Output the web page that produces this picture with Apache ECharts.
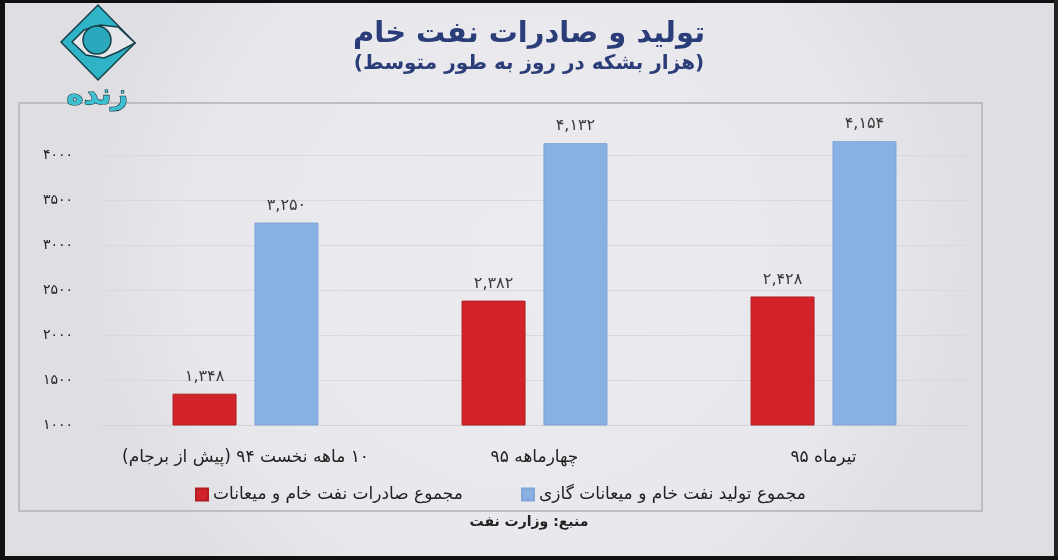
<!DOCTYPE html>
<html>
<head>
<meta charset="utf-8">
<script src="https://cdn.jsdelivr.net/npm/echarts@6/dist/echarts.min.js"></script>
<style>
html,body{margin:0;padding:0;background:#000;}
#main{width:1058px;height:560px;}
</style>
</head>
<body>
<div id="main"></div>
<script>
// ---- data ----
const titleText = 'تولید و صادرات نفت خام';
const subtitleText = '(هزار بشکه در روز به طور متوسط)';
const categories = ['۱۰ ماهه نخست ۹۴ (پیش از برجام)', 'چهارماهه ۹۵', 'تیرماه ۹۵'];
const exportName = 'مجموع صادرات نفت خام و میعانات';
const productionName = 'مجموع تولید نفت خام و میعانات گازی';
const exportValues = [1348, 2382, 2428];
const productionValues = [3250, 4132, 4154];
const yTicks = [1000, 1500, 2000, 2500, 3000, 3500, 4000];
const sourceText = 'منبع: وزارت نفت';
const logoText = 'زنده';

const FA = '۰۱۲۳۴۵۶۷۸۹';
const fa = s => String(s).replace(/\d/g, d => FA[d]);
const rtl = s => '\u202B' + s + '\u202C';
const FONT = '"DejaVu Sans", sans-serif';

const chart = echarts.init(document.getElementById('main'));

const labelCfg = {
  show: true, position: 'top', distance: 9,
  color: '#3a3a3a', fontSize: 16, fontFamily: FONT,
  formatter: p => fa(p.value.toLocaleString('en-US'))
};

const option = {
  animation: false,
  backgroundColor: {
    type: 'radial', x: 0.5, y: 0.45, r: 0.8,
    colorStops: [{offset: 0, color: '#ececf0'}, {offset: 0.75, color: '#e8e8ec'}, {offset: 1, color: '#dfdfe3'}]
  },
  textStyle: {fontFamily: FONT},
  title: {
    text: rtl(titleText),
    subtext: rtl(subtitleText),
    left: 'center', top: 15, itemGap: 5,
    textStyle: {fontFamily: FONT, fontSize: 29, fontWeight: 'bold', color: '#2b3d78'},
    subtextStyle: {fontFamily: FONT, fontSize: 20, fontWeight: 'bold', color: '#2b3d78'}
  },
  legend: [
    {data: [exportName], left: 190, top: 481, icon: 'rect', itemWidth: 12, itemHeight: 12, itemGap: 6,
     formatter: n => rtl(n), textStyle: {fontFamily: FONT, fontSize: 17, color: '#222'}},
    {data: [productionName], left: 516, top: 481, icon: 'rect', itemWidth: 12, itemHeight: 12, itemGap: 6,
     formatter: n => rtl(n), textStyle: {fontFamily: FONT, fontSize: 17, color: '#222'}}
  ],
  grid: {left: 101, right: 90, top: 110, bottom: 135},
  xAxis: {
    type: 'category', data: categories,
    axisLine: {show: true, lineStyle: {color: '#d2d3d8', width: 1}},
    axisTick: {show: false},
    axisLabel: {interval: 0, hideOverlap: false, margin: 24, fontSize: 17, color: '#222', fontFamily: FONT, formatter: v => rtl(v)}
  },
  yAxis: {
    type: 'value', min: 1000, max: 4500, interval: 500,
    axisLine: {show: false}, axisTick: {show: false},
    axisLabel: {margin: 28, fontSize: 14, color: '#222', fontFamily: FONT,
      formatter: v => yTicks.includes(v) ? fa(v) : ''},
    splitLine: {lineStyle: {color: ['#d8d9de','#d8d9de','#d8d9de','#d8d9de','#d8d9de','#d8d9de','#d8d9de','rgba(0,0,0,0)'], width: 1}}
  },
  series: [
    {name: exportName, type: 'bar', data: exportValues, barWidth: 64, barGap: '28%',
     itemStyle: {color: '#d3232a', borderColor: '#b01e24', borderWidth: 1}, label: labelCfg},
    {name: productionName, type: 'bar', data: productionValues, barWidth: 64,
     itemStyle: {color: '#88b0e2', borderColor: '#80a6d8', borderWidth: 1}, label: labelCfg}
  ],
  graphic: [
    // frame
    {type: 'rect', shape: {x: 19, y: 103, width: 963, height: 408}, silent: true,
     style: {fill: 'none', stroke: '#bdbdc2', lineWidth: 2}},
    // source
    {type: 'text', left: 'center', top: 515, silent: true,
     style: {text: rtl(sourceText), font: 'bold 14px ' + FONT, fill: '#222'}},
    // logo diamond
    {type: 'polygon', silent: true,
     shape: {points: [[98,5],[135,43],[98,80],[61,42]]},
     style: {fill: '#2fb3c6', stroke: '#16414a', lineWidth: 1.5}},
    // eye opening
    {type: 'polygon', silent: true,
     shape: {points: [[72,42],[84,30],[100,25],[118,27],[135,43],[118,52],[104,58],[86,55]]},
     style: {fill: '#e6e7eb', stroke: '#16414a', lineWidth: 1.5}},
    // iris
    {type: 'circle', silent: true, shape: {cx: 97, cy: 40, r: 14},
     style: {fill: '#2aa9bd', stroke: '#16414a', lineWidth: 1.5}},
    // logo text
    {type: 'text', silent: true, left: 66, top: 81,
     style: {text: rtl(logoText), font: 'bold 29px ' + FONT, fill: '#3cc0d2', stroke: '#14363e', lineWidth: 1.2}},
    // screen edges
    {type: 'rect', silent: true, shape: {x: 0, y: 0, width: 1058, height: 3}, style: {fill: '#111'}},
    {type: 'rect', silent: true, shape: {x: 0, y: 0, width: 5, height: 560}, style: {fill: '#111'}},
    {type: 'rect', silent: true, shape: {x: 1054, y: 0, width: 4, height: 560}, style: {fill: '#222'}},
    {type: 'rect', silent: true, shape: {x: 0, y: 556, width: 1058, height: 4}, style: {fill: '#111'}}
  ]
};
chart.setOption(option);
</script>
</body>
</html>
